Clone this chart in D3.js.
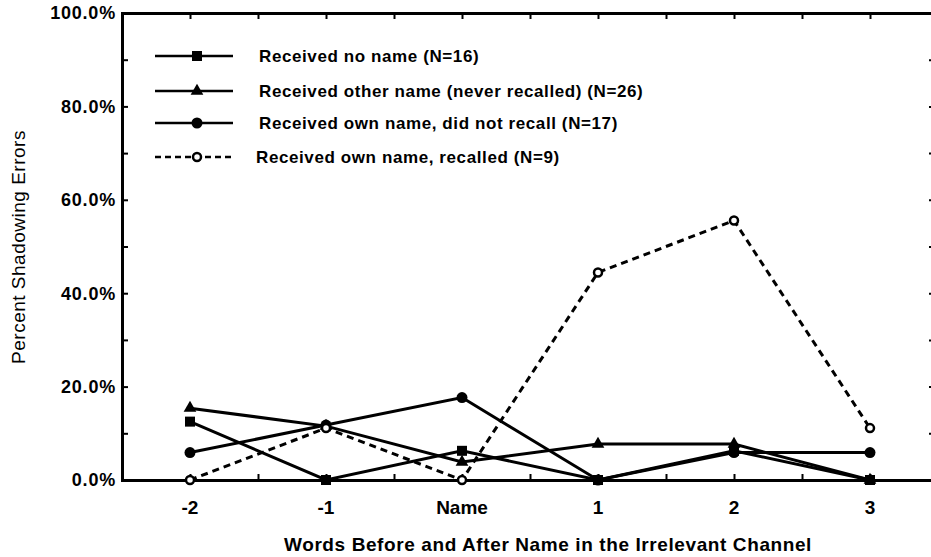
<!DOCTYPE html>
<html>
<head>
<meta charset="utf-8">
<script src="https://cdn.jsdelivr.net/npm/d3@7"></script>
<style>
  body { margin: 0; background: #fff; }
  svg text { font-family: "Liberation Sans", Arial, sans-serif; font-weight: bold; fill: #000; }
</style>
</head>
<body>
<div id="chart"></div>
<script>
// categories on the x axis
var categories = ["-2", "-1", "Name", "1", "2", "3"];

// percent shadowing errors per series
var noName = [12.5, 0, 6.25, 0, 6.25, 0];
var otherName = [15.38, 11.54, 3.85, 7.69, 7.69, 0];
var ownNotRecalled = [5.88, 11.76, 17.65, 0, 5.88, 5.88];
var ownRecalled = [0, 11.11, 0, 44.44, 55.56, 11.11];

var seriesNames = [
    "Received no name (N=16)",
    "Received other name (never recalled) (N=26)",
    "Received own name, did not recall (N=17)",
    "Received own name, recalled (N=9)"
];

var yTicks = [0, 20, 40, 60, 80, 100];

function init() {
    var w = 931, h = 557;

    var series = [
        { name: seriesNames[0], values: noName, marker: "square", dashed: false },
        { name: seriesNames[1], values: otherName, marker: "triangle", dashed: false },
        { name: seriesNames[2], values: ownNotRecalled, marker: "circle", dashed: false },
        { name: seriesNames[3], values: ownRecalled, marker: "open", dashed: true }
    ];

    var svg = d3.select("#chart").append("svg")
        .attr("width", w)
        .attr("height", h);

    var xScale = d3.scaleBand()
        .domain(categories)
        .range([122, 938]);

    var yScale = d3.scaleLinear()
        .domain([0, 100])
        .range([480, 13]);

    var cx = function (c) { return xScale(c) + xScale.bandwidth() / 2; };

    // small ticks on x at band edges and centres
    var xTickPos = [];
    categories.forEach(function (c) { xTickPos.push(xScale(c)); xTickPos.push(cx(c)); });

    var xTickScale = d3.scaleLinear().domain([122, 938]).range([122, 938]);

    // bottom axis (ticks inward)
    var xAxis = d3.axisBottom(xTickScale).tickValues(xTickPos.slice(1)).tickSize(-6).tickFormat("");
    svg.append("g")
        .attr("transform", "translate(0,480)")
        .call(xAxis);

    // top axis
    var xAxisTop = d3.axisTop(xTickScale).tickValues(xTickPos.slice(1)).tickSize(-6).tickFormat("");
    svg.append("g")
        .attr("transform", "translate(0,13)")
        .call(xAxisTop);

    // left axis
    var yAxis = d3.axisLeft(yScale).ticks(10).tickSize(-6).tickFormat("");
    svg.append("g")
        .attr("transform", "translate(122,0)")
        .call(yAxis);

    // right axis
    var yAxisRight = d3.axisRight(yScale).ticks(10).tickSize(-8).tickFormat("");
    svg.append("g")
        .attr("transform", "translate(937,0)")
        .call(yAxisRight);

    svg.selectAll(".domain").attr("stroke", "#000").attr("stroke-width", 3);
    svg.selectAll(".tick line").attr("stroke", "#000").attr("stroke-width", 2);

    // y tick labels
    svg.selectAll(".ylab")
        .data(yTicks)
        .enter()
        .append("text")
        .attr("x", 116)
        .attr("y", function (d) { return yScale(d); })
        .attr("dy", "0.35em")
        .attr("text-anchor", "end")
        .style("font-size", "18px")
        .style("letter-spacing", "0.8px")
        .text(function (d) { return d.toFixed(1) + "%"; });

    // x tick labels
    svg.selectAll(".xlab")
        .data(categories)
        .enter()
        .append("text")
        .attr("x", cx)
        .attr("y", 514)
        .attr("text-anchor", "middle")
        .style("font-size", "19px")
        .text(function (d) { return d; });

    // axis titles
    svg.append("text")
        .attr("x", 548)
        .attr("y", 551)
        .attr("text-anchor", "middle")
        .style("font-size", "19px")
        .style("letter-spacing", "0.6px")
        .text("Words Before and After Name in the Irrelevant Channel");

    svg.append("text")
        .attr("transform", "translate(25," + 247 + ") rotate(-90)")
        .attr("text-anchor", "middle")
        .style("font-size", "19px")
        .style("font-weight", "normal")
        .style("letter-spacing", "0.5px")
        .text("Percent Shadowing Errors");

    var line = d3.line()
        .x(function (d, i) { return cx(categories[i]); })
        .y(function (d) { return yScale(d); });

    function drawMarker(g, type, x, y) {
        if (type === "square") {
            g.append("rect").attr("x", x - 5).attr("y", y - 5).attr("width", 10).attr("height", 10).attr("fill", "#000");
        } else if (type === "triangle") {
            g.append("path").attr("d", d3.symbol().type(d3.symbolTriangle).size(70)()).attr("transform", "translate(" + x + "," + y + ")").attr("fill", "#000");
        } else if (type === "circle") {
            g.append("circle").attr("cx", x).attr("cy", y).attr("r", 5.5).attr("fill", "#000");
        } else {
            g.append("circle").attr("cx", x).attr("cy", y).attr("r", 4).attr("fill", "#fff").attr("stroke", "#000").attr("stroke-width", 2.5);
        }
    }

    // series lines
    series.forEach(function (s) {
        var g = svg.append("g");
        g.append("path")
            .datum(s.values)
            .attr("d", line)
            .attr("fill", "none")
            .attr("stroke", "#000")
            .attr("stroke-width", 3)
            .attr("stroke-dasharray", s.dashed ? "7,5" : null);
        s.values.forEach(function (v, i) {
            drawMarker(g, s.marker, cx(categories[i]), yScale(v));
        });
    });

    // legend
    var legend = svg.append("g");
    series.forEach(function (s, i) {
        var y = [56, 91, 123, 157][i];
        legend.append("line")
            .attr("x1", 155).attr("x2", 233)
            .attr("y1", y).attr("y2", y)
            .attr("stroke", "#000")
            .attr("stroke-width", 2.5)
            .attr("stroke-dasharray", s.dashed ? "6,4" : null);
        drawMarker(legend, s.marker, 197, y);
        legend.append("text")
            .attr("x", s.dashed ? 256 : 259)
            .attr("y", y)
            .attr("dy", "0.35em")
            .style("font-size", "17px")
            .style("letter-spacing", "0.6px")
            .text(s.name);
    });
}

window.onload = init;
</script>
</body>
</html>
